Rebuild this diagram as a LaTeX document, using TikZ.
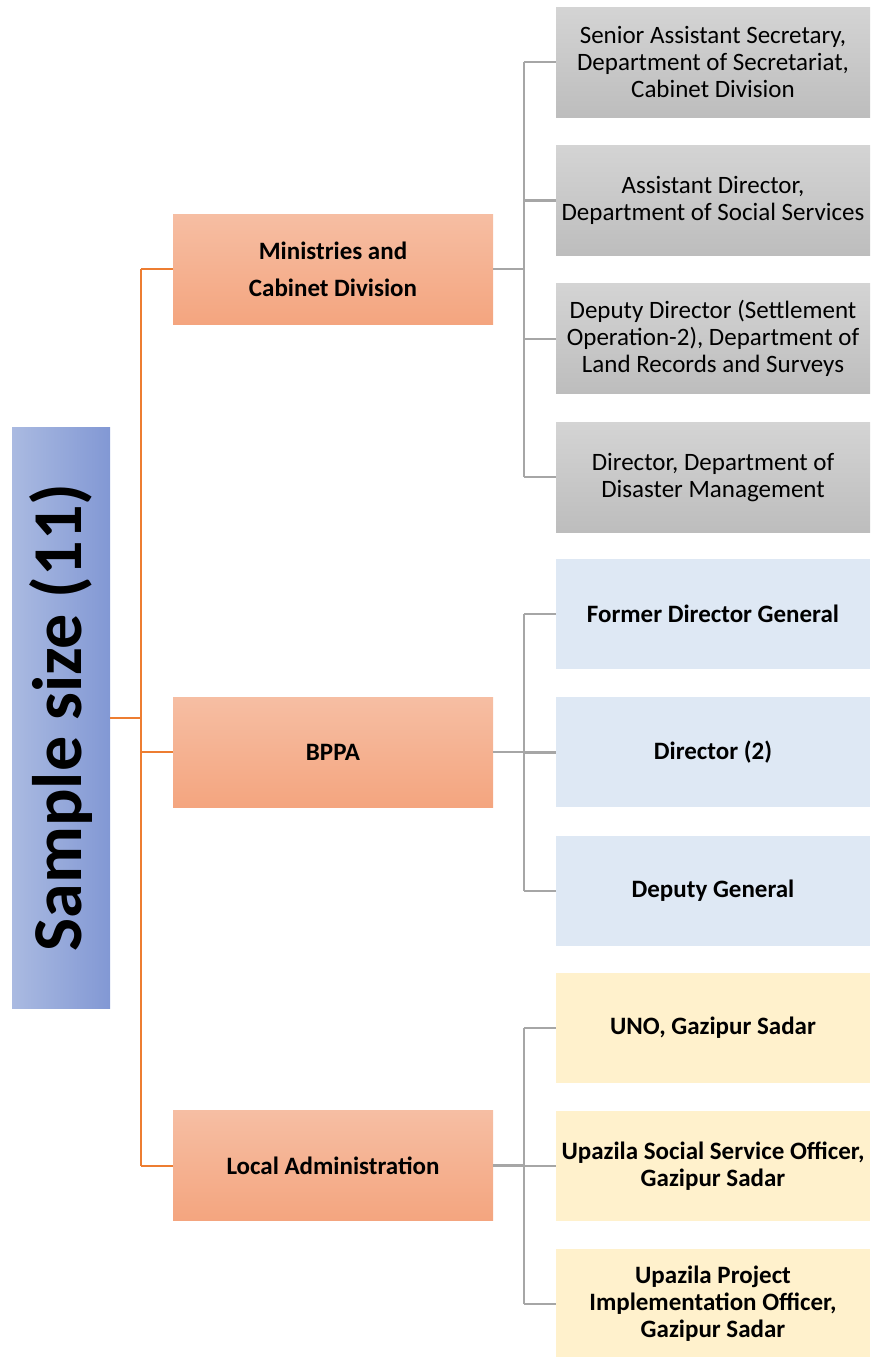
\documentclass[tikz,border=0pt]{standalone}
\usepackage{fontspec}
\setmainfont{Carlito}
\usepackage{xcolor}
\usepackage{tikz}
\usetikzlibrary{positioning}

\definecolor{smpleft}{HTML}{AABAE1}
\definecolor{smpright}{HTML}{8298D4}
\definecolor{orgtop}{HTML}{F6BEA3}
\definecolor{orgbot}{HTML}{F4A57F}
\definecolor{graytop}{HTML}{D4D4D4}
\definecolor{graybot}{HTML}{BDBDBD}
\definecolor{lblue}{HTML}{DEE8F4}
\definecolor{lyellow}{HTML}{FFF1CC}
\definecolor{orgline}{HTML}{ED7D31}
\definecolor{grayline}{HTML}{A6A6A6}

\begin{document}
\begin{tikzpicture}[x=1pt, y=1pt,
    sample/.style={rotate=90, minimum width=581pt, minimum height=98pt, inner sep=0pt,
        left color=smpleft, right color=smpright, font=\bfseries\fontsize{70}{74}\selectfont},
    grp/.style={minimum width=320pt, minimum height=110pt, inner sep=0pt, align=center,
        top color=orgtop, bottom color=orgbot, font=\bfseries\fontsize{25}{37}\selectfont},
    leaf/.style={minimum width=314pt, minimum height=110pt, inner sep=0pt, align=center,
        font=\fontsize{25}{27}\selectfont},
    leafgray/.style={leaf, top color=graytop, bottom color=graybot},
    leafblue/.style={leaf, fill=lblue, font=\bfseries\fontsize{25}{27}\selectfont},
    leafyellow/.style={leaf, fill=lyellow, font=\bfseries\fontsize{25}{27}\selectfont},
    oline/.style={draw=orgline, line width=2pt},
    gline/.style={draw=grayline, line width=2.2pt}]

    \useasboundingbox (0,0) rectangle (870,-1357);

    \node[sample] (smp) at (61,-717.5) {Sample size (11)};

    \node[grp] (min) at (333,-269) {Ministries and\\Cabinet Division};
    \node[grp] (bppa) at (333,-752) {BPPA};
    \node[grp] (loc) at (333,-1165.5) {Local Administration};

    % ministries
    \node[leafgray] (g1) at (713,-62) {Senior Assistant Secretary,\\Department of Secretariat,\\Cabinet Division};
    \node[leafgray] (g2) [below=28pt of g1] {Assistant Director,\\Department of Social Services};
    \node[leafgray] (g3) [below=28pt of g2] {Deputy Director (Settlement\\Operation-2), Department of\\Land Records and Surveys};
    \node[leafgray] (g4) [below=28pt of g3] {Director, Department of\\Disaster Management};

    % bppa
    \node[leafblue] (b1) at (713,-614) {Former Director General};
    \node[leafblue] (b2) [below=28pt of b1] {Director (2)};
    \node[leafblue] (b3) [below=28pt of b2] {Deputy General};

    % local administration
    \node[leafyellow] (y1) at (713,-1028) {UNO, Gazipur Sadar};
    \node[leafyellow] (y2) [below=27.5pt of y1] {Upazila Social Service Officer,\\Gazipur Sadar};
    \node[leafyellow] (y3) [below=27.5pt of y2] {Upazila Project\\Implementation Officer,\\Gazipur Sadar};

    \coordinate (otrunk) at (141,0);
    \coordinate (gtrunk) at (524,0);

    % orange tree
    \draw[oline] (smp.south) -- (otrunk |- smp.south);
    \draw[oline] (otrunk |- min) -- (otrunk |- loc);
    \foreach \g in {min,bppa,loc}
        \draw[oline] (otrunk |- \g) -- (\g.west);

    % gray branches
    \draw[gline] (min.east) -- (gtrunk |- min);
    \draw[gline] (gtrunk |- g1) -- (gtrunk |- g4);
    \foreach \n in {g1,g2,g3,g4}
        \draw[gline] (gtrunk |- \n) -- (\n.west);

    \draw[gline] (bppa.east) -- (gtrunk |- bppa);
    \draw[gline] (gtrunk |- b1) -- (gtrunk |- b3);
    \foreach \n in {b1,b2,b3}
        \draw[gline] (gtrunk |- \n) -- (\n.west);

    \draw[gline] (loc.east) -- (gtrunk |- loc);
    \draw[gline] (gtrunk |- y1) -- (gtrunk |- y3);
    \foreach \n in {y1,y2,y3}
        \draw[gline] (gtrunk |- \n) -- (\n.west);
\end{tikzpicture}
\end{document}
